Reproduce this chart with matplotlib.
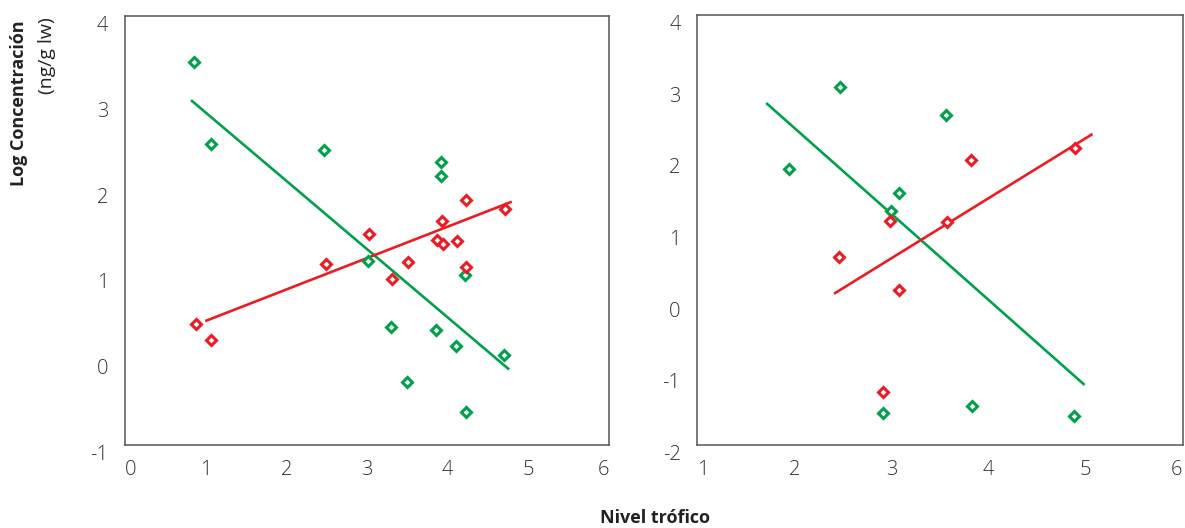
import matplotlib
matplotlib.use("Agg")
import matplotlib.pyplot as plt

# left panel
left_green_x = [0.85, 1.06, 2.47, 3.92, 3.92, 3.01, 4.21, 3.30, 3.85, 4.10, 4.70, 3.50, 4.23]
left_green_y = [3.46, 2.51, 2.44, 2.30, 2.14, 1.14, 0.98, 0.38, 0.34, 0.15, 0.05, -0.27, -0.62]
left_red_x = [0.88, 1.07, 2.49, 3.02, 3.31, 3.51, 3.93, 3.87, 3.94, 4.12, 4.23, 4.23, 4.71]
left_red_y = [0.41, 0.22, 1.11, 1.46, 0.94, 1.13, 1.61, 1.39, 1.34, 1.38, 1.86, 1.08, 1.75]
left_green_fit_x = [0.83, 4.75]
left_green_fit_y = [3.01, -0.11]
left_red_fit_x = [1.01, 4.78]
left_red_fit_y = [0.45, 1.83]

# right panel
right_green_x = [2.47, 1.94, 3.56, 3.08, 3.00, 2.91, 3.83, 4.88]
right_green_y = [2.99, 1.85, 2.61, 1.51, 1.26, -1.56, -1.46, -1.60]
right_red_x = [3.82, 4.89, 2.99, 3.57, 2.46, 3.08, 2.91]
right_red_y = [1.97, 2.15, 1.13, 1.11, 0.63, 0.16, -1.26]
right_green_fit_x = [1.72, 4.98]
right_green_fit_y = [2.76, -1.15]
right_red_fit_x = [2.42, 5.06]
right_red_fit_y = [0.12, 2.33]

GREEN = "#00a14b"
RED = "#ec1c24"
plt.rcParams['font.family'] = ['Open Sans', 'DejaVu Sans']
plt.rcParams['axes.unicode_minus'] = False

fig = plt.figure(figsize=(11.85, 5.28), dpi=100)
ax1 = fig.add_axes([0.1055, 0.1572, 0.4084, 0.8125])
ax2 = fig.add_axes([0.5884, 0.1572, 0.4096, 0.8144])


def draw(ax, gx, gy, rx, ry, gfx, gfy, rfx, rfy, xlim, ylim):
    ax.plot(gfx, gfy, color=GREEN, lw=1.9, zorder=2)
    ax.plot(rfx, rfy, color=RED, lw=1.9, zorder=2)
    ax.plot(gx, gy, ls="none", marker="D", ms=5, mfc="white", mec=GREEN, mew=2.2, zorder=3)
    ax.plot(rx, ry, ls="none", marker="D", ms=5, mfc="white", mec=RED, mew=2.2, zorder=3)
    ax.set_xlim(*xlim)
    ax.set_ylim(*ylim)
    ax.set_xticks(range(xlim[0], xlim[1] + 1))
    ax.set_yticks(range(ylim[0], ylim[1] + 1))
    ax.tick_params(length=0, labelsize=14.5, colors="#333333", pad=11)
    ax.tick_params(axis="y", pad=12)
    for lab in ax.get_yticklabels():
        lab.set_va("top")
    xl = ax.get_xticklabels()
    # end labels sit inside the box edges
    xl[0].set_ha("left")
    xl[-1].set_ha("right")
    for lab in xl + ax.get_yticklabels():
        lab.set_fontweight("light")
    for s in ax.spines.values():
        s.set_color("#555555")
        s.set_linewidth(1.1)


draw(ax1, left_green_x, left_green_y, left_red_x, left_red_y,
     left_green_fit_x, left_green_fit_y, left_red_fit_x, left_red_fit_y, (0, 6), (-1, 4))
draw(ax2, right_green_x, right_green_y, right_red_x, right_red_y,
     right_green_fit_x, right_green_fit_y, right_red_fit_x, right_red_fit_y, (1, 6), (-2, 4))

fig.text(19 / 1185, 1 - 20 / 528, "Log Concentración", rotation=90, ha="center", va="top",
         fontsize=13, fontweight="bold", color="#222222")
fig.text(47 / 1185, 1 - 17 / 528, "(ng/g lw)", rotation=90, ha="center", va="top",
         fontsize=14, color="#222222")
fig.text(655 / 1185, 1 - 518 / 528, "Nivel trófico", ha="center", va="center",
         fontsize=13, fontweight="bold", color="#222222")

fig.savefig("out.png", dpi=100)
